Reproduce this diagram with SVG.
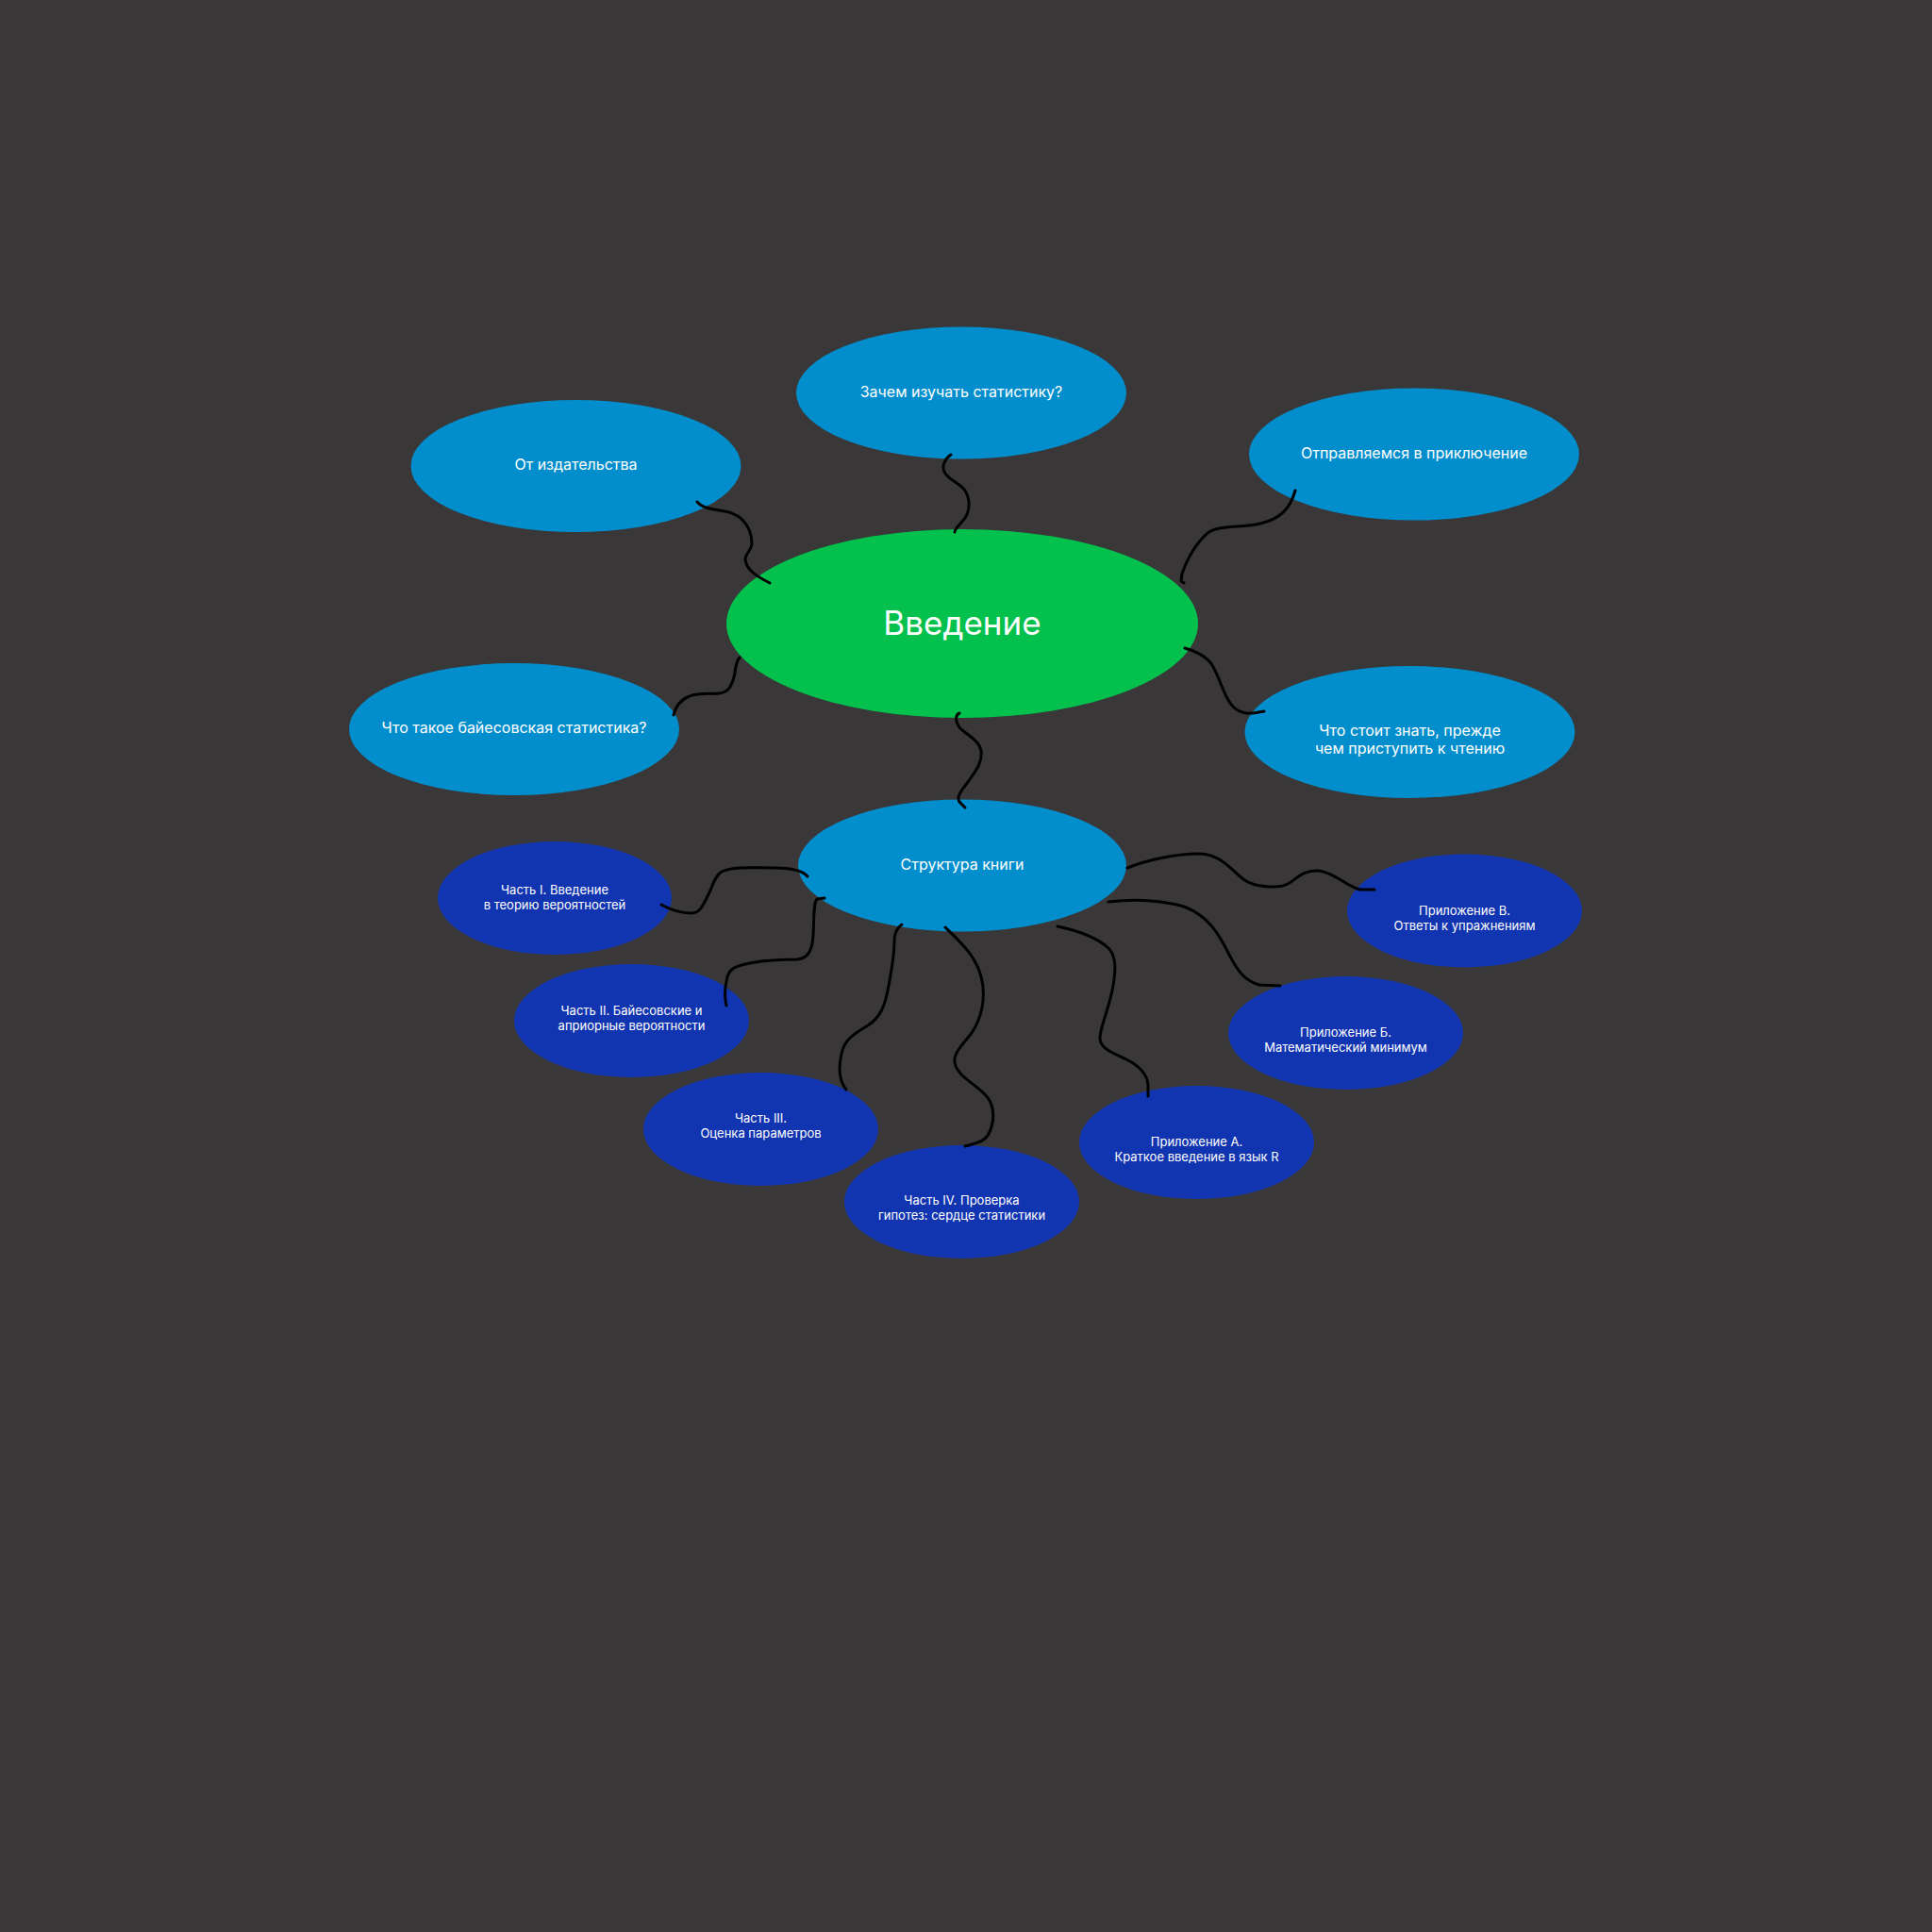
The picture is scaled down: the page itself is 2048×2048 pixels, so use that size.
<svg xmlns="http://www.w3.org/2000/svg" width="2048" height="2048" viewBox="0 0 2048 2048">
<style>
.bg{fill:#393738}
.main{fill:#04C04C}
.topic{fill:#028ECC}
.sub{fill:#1134B0}
text{font-family:Inter,"Noto Sans","Liberation Sans",sans-serif;fill:#FFFFFF;text-anchor:middle}
.t1{font-size:35px}
.t2{font-size:16px}
.t3{font-size:13px}
.c{fill:none;stroke:#000000;stroke-width:3;stroke-linecap:round;stroke-linejoin:round}
</style>
<rect class="bg" x="0" y="0" width="2048" height="2048"/>
<g id="nodes">
<g id="n-vvedenie"><ellipse class="main" cx="1020" cy="661" rx="250" ry="100"/><text class="t1" x="1020" y="673">Введение</text></g>
<g id="n-zachem"><ellipse class="topic" cx="1019" cy="416.5" rx="175" ry="70"/><text class="t2" x="1019" y="420.5">Зачем изучать статистику?</text></g>
<g id="n-izdatelstvo"><ellipse class="topic" cx="610.5" cy="494" rx="175" ry="70"/><text class="t2" x="610.5" y="498">От издательства</text></g>
<g id="n-priklyuchenie"><ellipse class="topic" cx="1499" cy="481.5" rx="175" ry="70"/><text class="t2" x="1499" y="486">Отправляемся в приключение</text></g>
<g id="n-bayes"><ellipse class="topic" cx="545" cy="773" rx="175" ry="70"/><text class="t2" x="545" y="777">Что такое байесовская статистика?</text></g>
<g id="n-znat"><ellipse class="topic" cx="1494.5" cy="776" rx="175" ry="70"/><text class="t2" x="1494.5" y="779.5">Что стоит знать, прежде</text><text class="t2" x="1494.5" y="798.5">чем приступить к чтению</text></g>
<g id="n-struktura"><ellipse class="topic" cx="1020" cy="917.5" rx="174" ry="70"/><text class="t2" x="1020" y="922">Структура книги</text></g>
<g id="n-part1"><ellipse class="sub" cx="588" cy="952" rx="124" ry="60"/><text class="t3" x="588" y="947.7">Часть I. Введение</text><text class="t3" x="588" y="963.7">в теорию вероятностей</text></g>
<g id="n-part2"><ellipse class="sub" cx="669.5" cy="1082" rx="124.5" ry="60"/><text class="t3" x="669.5" y="1076.4">Часть II. Байесовские и</text><text class="t3" x="669.5" y="1092.4">априорные вероятности</text></g>
<g id="n-part3"><ellipse class="sub" cx="806.5" cy="1197" rx="124.5" ry="60"/><text class="t3" x="806.5" y="1190.4">Часть III.</text><text class="t3" x="806.5" y="1206.4">Оценка параметров</text></g>
<g id="n-part4"><ellipse class="sub" cx="1019.5" cy="1274" rx="124.5" ry="60"/><text class="t3" x="1019.5" y="1277.4">Часть IV. Проверка</text><text class="t3" x="1019.5" y="1293.4">гипотез: сердце статистики</text></g>
<g id="n-appA"><ellipse class="sub" cx="1268.5" cy="1211" rx="124.5" ry="60"/><text class="t3" x="1268.5" y="1214.7">Приложение А.</text><text class="t3" x="1268.5" y="1230.7">Краткое введение в язык R</text></g>
<g id="n-appB"><ellipse class="sub" cx="1426.5" cy="1095" rx="124.5" ry="60"/><text class="t3" x="1426.5" y="1099.3">Приложение Б.</text><text class="t3" x="1426.5" y="1115.3">Математический минимум</text></g>
<g id="n-appV"><ellipse class="sub" cx="1552.5" cy="965.5" rx="124.5" ry="60"/><text class="t3" x="1552.5" y="970.4">Приложение В.</text><text class="t3" x="1552.5" y="986.4">Ответы к упражнениям</text></g>
</g>
<g id="connectors">
<path class="c" d="M739,532 C743,537 750,539 757,540 C766,542 778,542 787,551 C794,558 797,568 797,577 C796,584 790,587 790,593 C791,603 800,610 816,618"/>
<path class="c" d="M1008,482 C1002,486 998,494 1001,500 C1005,509 1018,512 1023,520 C1029,530 1028,541 1023,549 C1018,556 1012,560 1012,564"/>
<path class="c" d="M1373,520 C1368,538 1358,550 1336,555 C1315,560 1290,556 1279,566 C1266,578 1258,594 1253,608 L1252,616 L1255,618"/>
<path class="c" d="M1256,687 C1268,690 1280,697 1285,705 C1292,717 1296,732 1302,742 C1307,751 1314,757 1328,756 L1340,754"/>
<path class="c" d="M784,697 C779,703 780,711 778,718 C775,728 772,734 762,735 C752,736 740,734 731,738 C720,742 716,750 714,758"/>
<path class="c" d="M1017,756 C1012,758 1013,766 1017,771 C1024,779 1038,784 1040,796 C1042,809 1032,820 1026,829 C1020,837 1012,846 1018,851 L1023,856"/>
<path class="c" d="M856,929 C850,922 836,920 820,920 C800,920 778,918 765,924 C756,930 755,942 750,950 C745,960 742,968 733,968 C722,968 710,964 701,959"/>
<path class="c" d="M874,952 L866,953 C862,958 863,975 862,992 C861,1005 858,1016 845,1017 C830,1017 810,1018 795,1021 C780,1024 772,1026 770,1040 C768,1050 768,1058 770,1066"/>
<path class="c" d="M956,980 C950,984 948,990 948,998 C948,1015 944,1035 941,1050 C938,1065 934,1078 920,1087 C905,1096 895,1102 892,1117 C889,1130 889,1145 897,1155"/>
<path class="c" d="M1002,983 C1016,997 1034,1012 1040,1035 C1046,1058 1040,1080 1030,1095 C1020,1108 1008,1118 1013,1130 C1018,1142 1032,1148 1044,1160 C1056,1172 1054,1190 1048,1202 C1044,1210 1034,1212 1023,1215"/>
<path class="c" d="M1121,982 C1140,986 1162,993 1175,1005 C1185,1015 1182,1035 1179,1050 C1175,1070 1166,1090 1166,1100 C1166,1112 1180,1116 1194,1123 C1208,1130 1216,1138 1217,1150 L1217,1162"/>
<path class="c" d="M1175,956 C1200,953 1230,954 1255,961 C1280,970 1292,990 1302,1010 C1312,1030 1320,1040 1335,1044 L1357,1045"/>
<path class="c" d="M1195,920 C1215,912 1245,905 1272,905 C1295,906 1305,922 1318,932 C1330,941 1355,942 1365,937 C1375,932 1380,922 1398,923 C1415,925 1428,940 1442,943 L1457,943"/>
</g>
</svg>
